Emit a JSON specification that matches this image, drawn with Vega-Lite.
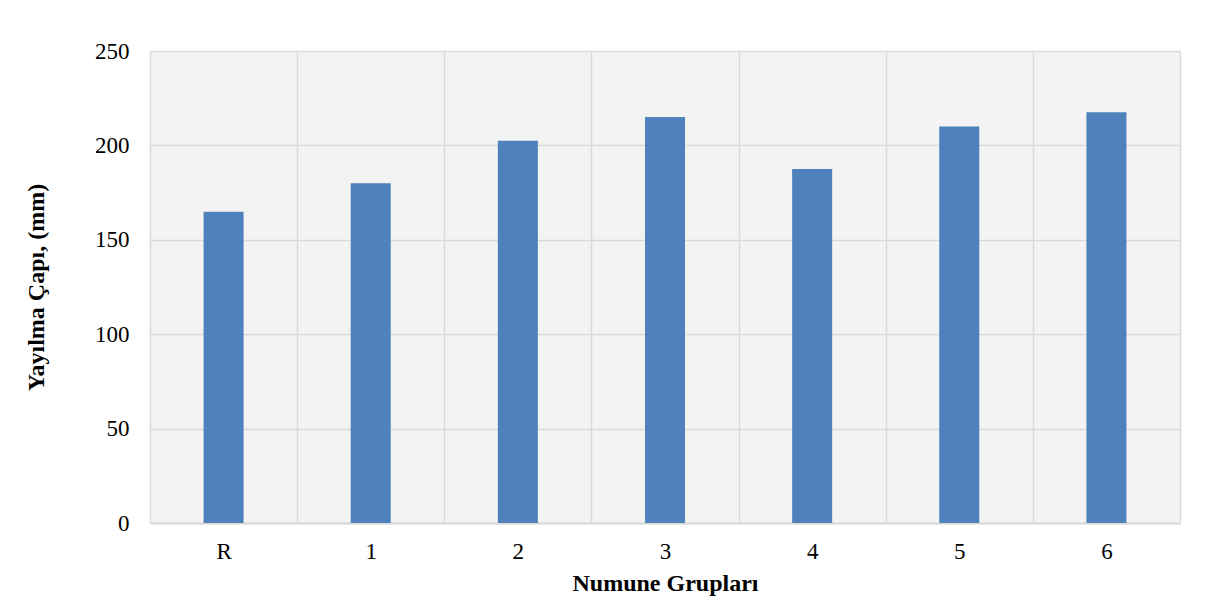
{
  "$schema": "https://vega.github.io/schema/vega-lite/v6.json",
  "autosize": {"type": "none"},
  "padding": {"left": 150, "top": 51, "right": 33, "bottom": 87},
  "width": 1030,
  "height": 472,
  "background": "white",
  "data": {
    "values": [
      {"grup": "R", "cap": 164.8},
      {"grup": "1", "cap": 180},
      {"grup": "2", "cap": 202.5},
      {"grup": "3", "cap": 215},
      {"grup": "4", "cap": 187.5},
      {"grup": "5", "cap": 210},
      {"grup": "6", "cap": 217.5}
    ]
  },
  "mark": {"type": "bar", "color": "#4f81bd", "width": {"band": 0.272}},
  "encoding": {
    "x": {
      "field": "grup",
      "type": "nominal",
      "sort": null,
      "scale": {"paddingInner": 0, "paddingOuter": 0},
      "axis": {
        "title": "Numune Grupları",
        "labelAngle": 0,
        "ticks": false,
        "grid": true,
        "tickBand": "extent",
        "gridColor": "#d9d9d9",
        "gridWidth": 1.5,
        "domainColor": "#d9d9d9",
        "domainWidth": 2,
        "labelPadding": 17,
        "titlePadding": 8
      }
    },
    "y": {
      "field": "cap",
      "type": "quantitative",
      "scale": {"domain": [0, 250]},
      "axis": {
        "title": "Yayılma Çapı, (mm)",
        "values": [0, 50, 100, 150, 200, 250],
        "ticks": false,
        "domain": false,
        "grid": true,
        "gridColor": "#d9d9d9",
        "gridWidth": 1.5,
        "labelPadding": 21,
        "titlePadding": 46
      }
    }
  },
  "config": {
    "view": {"fill": "#f3f3f3", "stroke": null},
    "axis": {
      "labelFont": "Liberation Serif",
      "labelFontSize": 23,
      "labelColor": "#000000",
      "titleFont": "Liberation Serif",
      "titleFontSize": 24,
      "titleFontWeight": "bold",
      "titleColor": "#000000"
    }
  }
}
